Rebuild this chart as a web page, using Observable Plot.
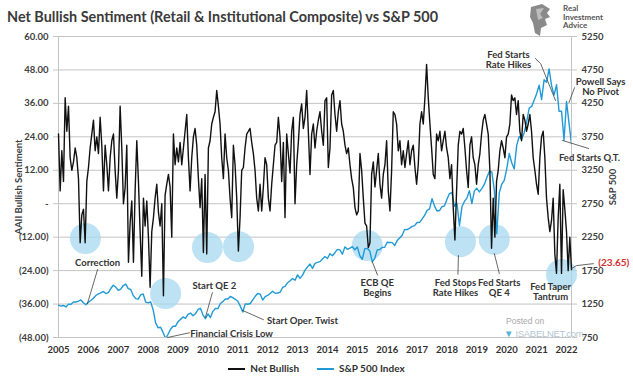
<!DOCTYPE html>
<html><head><meta charset="utf-8">
<script src="https://cdn.jsdelivr.net/npm/d3@7"></script>
<script src="https://cdn.jsdelivr.net/npm/@observablehq/plot@0.6"></script>
<style>
body{margin:0;background:#fff;}
#wrap{position:relative;width:633px;height:387px;overflow:hidden;font-family:Lato,"Open Sans",sans-serif;color:#404040;}
#chart{position:absolute;left:0;top:0;}
.abs{position:absolute;white-space:nowrap;}
.rot{position:absolute;transform:translate(-50%,-50%) rotate(-90deg);font-weight:bold;font-size:9.5px;white-space:nowrap;color:#404040;}
#legend{position:absolute;top:362px;left:0;width:633px;text-align:center;font-size:10px;font-weight:bold;color:#303030;}
#legend span.sw{display:inline-block;width:17px;height:2px;vertical-align:middle;margin:0 5px 0 0;}
#legend span.it{margin:0 9px;}
</style></head><body>
<div id="wrap">
  <svg class="abs" style="left:0;top:0" width="470" height="36"><text x="7" y="22" textLength="431" lengthAdjust="spacingAndGlyphs" font-family="Lato, sans-serif" font-weight="bold" font-size="15.5" fill="#3a3a3a">Net Bullish Sentiment (Retail &amp; Institutional Composite) vs S&amp;P 500</text></svg>
  <svg class="abs" style="left:528px;top:3px" width="24" height="34"><path d="M3 4 L14 1 L22 6 L19 10 L22 14 L17 16 L19 22 L13 25 L12 33 L7 30 L5 20 L2 14 Z" fill="#8a8a8a"/><path d="M8 6 L16 5 L12 11 L15 15 L10 17 Z" fill="#bdbdbd"/></svg>
  <div class="abs" style="left:563px;top:4px;font-size:8px;font-weight:bold;line-height:8.5px;color:#555">Real<br>Investment<br>Advice</div>
  <div id="chart"></div>
  <div class="rot" style="left:18px;top:187px">AAII Bullish Sentiment</div>
  <div class="rot" style="left:612px;top:187px">S&amp;P 500</div>
  <div class="abs" style="left:506px;top:316px;font-size:8.5px;color:#a8a8a8;font-family:Arial,sans-serif">Posted on</div>
  <div class="abs" style="left:504px;top:328px;font-size:9.5px;color:#b4c6d2;font-family:Arial,sans-serif;letter-spacing:-0.3px"><span style="color:#5ab0d8">&#9660;</span> ISABELNET.com</div>
  <div id="legend"><span class="it"><span class="sw" style="background:#111"></span>Net Bullish</span><span class="it"><span class="sw" style="background:#1f9ad6"></span>S&amp;P 500 Index</span></div>
</div>
<script>
// Year labels on the category-style x axis (one label every 12 monthly points)
const yearLabels = [2005,2006,2007,2008,2009,2010,2011,2012,2013,2014,2015,2016,2017,2018,2019,2020,2021,2022];
// Net Bullish readings, evenly spaced (about every 20 days) across the whole axis
const netBullish = [
  25, 4.6, 19, 8, 38, 26, 35, 16.5, 12, 15, 20, 16.5,
  9, -14, -4, -2, -14, 8, 13, 20, 25, 30, 19, 24,
  18, 31, 21, 4.6, 21, 14, 4.6, 16.5, 22.6, 25, 12, 2,
  12, 35, 20, 0, 5.8, 21, -21, -7, 1, -21, 4.6, 22.6,
  8, -10, -26, 2, -8, 1, -12, -30, -10, -5, 2, 7,
  -3, -8, 0, -33, 3, 7, 10.5, 6, -12, 25, 14, 20,
  15, 22, 14, 20, 26, 32, 16.5, 4.6, 16.5, 24, 27, 21,
  9, -1.4, 9, -17.5, 10.5, -18, 20, 22.6, 28.6, 31, 33, 40.6,
  35, 28.6, 16.5, 9, 25, 16.5, 12, 2, -5, 21, 14, 2,
  -17, -5, 12, 13, 20, 25, 26, 27, 22, 18, 12, 2,
  -2.6, 7, -2.6, 6, 16.5, 14, 2, -2.6, 7, 14, 21, 22,
  31, 24, 8, 22, -5, 25, 18, 11, 26, 31, 0, 14,
  22, 32, 35.8, 27, 31, 40.6, 26, 10.5,
  25, 28.6, 20, 26, 30, 33, 26, 21, 37, 38, 13, 20,
  39, 40.6, 32, 26, 33, 37, 28.6, 26, 21, 18, 20, 14,
  9, 5.8, -1.4, -4, -2.6, 18, 12, 2, -7, -8, -15.7, -14,
  10.5, 15, 6, 12, 18, 7, 2, 10.5, 14, 22.6, 4.6, -2.6,
  12, 33, 32, 28.6, 19, 22.6, 14, 19, 13, 18, 22.6, 14,
  19, 21, 13, 7, 14, 28.6, 33, 28.6, 38, 50, 38, 28.6,
  20, 10.5, 9, 25, 22.6, 26, 19, 22.6, 26, 20, 16.5, 9,
  14, -1.4, -13, 4.6, 21, 26, 25, 27, 20, 12, 5.8, 21,
  24, 16.5, 14, 7, 14, 18, 25, 30, 32, 28.6, 25, 12,
  -16, 2, -12, 8, 12, 19, 22.6, 20, 16.5, 24, 25, 28.6,
  39, 37, 38, 32, 37, 26, 22.6, 32, 30, 26, 28.6, 32,
  26, 16.5, 12, 7, 3.4, 16.5, 24, 26, 16.5, 2, -5, -10,
  -6, 2, -18, -25, -5, 7, -25, 5, -2, -10, -24, -12, -23.65
];
// Monthly S&P 500 levels (12 per row, same axis span)
const sp500 = [
  1234, 1220, 1229, 1207, 1249, 1248, 1280, 1281, 1295, 1311, 1270, 1240,
  1277, 1304, 1336, 1378, 1401, 1418, 1438, 1407, 1421, 1482, 1531, 1503,
  1455, 1474, 1527, 1549, 1481, 1468, 1379, 1331, 1323, 1386, 1400, 1280,
  1267, 1283, 1166, 969, 896, 903, 826, 735, 798, 873, 919, 919,
  987, 1021, 1057, 1036, 1096, 1115, 1074, 1104, 1169, 1187, 1089, 1031,
  1102, 1049, 1141, 1183, 1181, 1258, 1286, 1327, 1326, 1364, 1345, 1321,
  1292, 1219, 1131, 1253, 1247, 1258, 1312, 1366, 1408, 1398, 1310, 1362,
  1379, 1407, 1441, 1412, 1416, 1426, 1498, 1515, 1569, 1598, 1631, 1606,
  1686, 1633, 1682, 1757, 1806, 1848, 1783, 1859, 1872, 1884, 1924, 1960,
  1931, 2003, 1972, 2018, 2068, 2059, 1995, 2105, 2068, 2086, 2107, 2063,
  2104, 1972, 1920, 2079, 2080, 2044, 1880, 1932, 2060, 2065, 2097, 2099,
  2174, 2171, 2168, 2126, 2199, 2239, 2279, 2364, 2363, 2384, 2412, 2423,
  2470, 2472, 2519, 2575, 2648, 2674, 2824, 2714, 2641, 2648, 2705, 2718,
  2816, 2902, 2914, 2712, 2760, 2420, 2704, 2784, 2834, 2946, 2752, 2942,
  2980, 2926, 2977, 3038, 3141, 3231, 3226, 2954, 2300, 2912, 3044, 3100,
  3271, 3500, 3363, 3270, 3622, 3756, 3714, 3811, 3973, 4181, 4204, 4298,
  4395, 4523, 4308, 4605, 4567, 4766, 4516, 4374, 4530, 4132, 4132, 3700,
  4280, 3955, 3640
];
const leftTicks = [60, 48, 36, 24, 12, 0, -12, -24, -36, -48];
const rightTicks = [5250, 4750, 4250, 3750, 3250, 2750, 2250, 1750, 1250, 750];
const legendNames = ["Net Bullish", "S&P 500 Index"];

// Annotation circles, notes and leader lines (in data coordinates: month index, left-axis value)
const circles = [
  {i: 10.8, v: -12.5}, {i: 43, v: -32.2}, {i: 59.8, v: -15.7}, {i: 72.3, v: -15.4},
  {i: 124, v: -15}, {i: 161.4, v: -13.6}, {i: 175, v: -12.8}, {i: 202, v: -25.4}
];
const notes = [
  {i: 15.7, v: -21.2, t: "Correction"},
  {i: 62.6, v: -29.3, t: "Start QE 2"},
  {i: 98, v: -42, t: "Start Oper. Twist"},
  {i: 69.5, v: -46.7, t: "Financial Crisis Low"},
  {i: 128, v: -30.2, t: "ECB QE\nBegins"},
  {i: 159.4, v: -30.2, t: "Fed Stops\nRate Hikes"},
  {i: 177, v: -30.2, t: "Fed Starts\nQE 4"},
  {i: 197.6, v: -31.6, t: "Fed Taper\nTantrum"},
  {i: 180.7, v: 51.7, t: "Fed Starts\nRate Hikes"},
  {i: 217.7, v: 42.1, t: "Powell Says\nNo Pivot"},
  {i: 213.2, v: 16.6, t: "Fed Starts Q.T."}
];
const endNote = [{i: 223, v: -21.3, t: "(23.65)"}];
const leaders = [
  {id: 1, i: 15.7, v: -23.6}, {id: 1, i: 11.6, v: -35.9},
  {id: 2, i: 43.8, v: -48}, {id: 2, i: 52.6, v: -46.3},
  {id: 3, i: 61.8, v: -31.9}, {id: 3, i: 59, v: -40.8},
  {id: 4, i: 82.3, v: -41.6}, {id: 4, i: 73.9, v: -38.3},
  {id: 5, i: 128.1, v: -25.6}, {id: 5, i: 126, v: -20.8},
  {id: 6, i: 160.4, v: -25.3}, {id: 6, i: 160.6, v: -18.6},
  {id: 7, i: 177, v: -25}, {id: 7, i: 175, v: -17.9},
  {id: 8, i: 191.5, v: 52.1}, {id: 8, i: 193.6, v: 50.3}, {id: 8, i: 199.6, v: 37},
  {id: 9, i: 207.2, v: 41.6}, {id: 9, i: 205, v: 36.3},
  {id: 10, i: 212.9, v: 19.8}, {id: 10, i: 202.4, v: 22.7},
  {id: 11, i: 206, v: -23.3}, {id: 11, i: 208, v: -22.2}, {id: 11, i: 214.8, v: -21.5}
];

const span = 206; // monthly positions across the axis
const spToLeft = s => -48 + (s - 750) * 108 / 4500;
const leftFmt = d => d === 0 ? "-" : d < 0 ? `(${Math.abs(d).toFixed(2)})` : d.toFixed(2);
const bull = netBullish.map((v, k) => ({i: k * span / (netBullish.length - 1), v}));
const sp = sp500.map((s, i) => ({i, v: spToLeft(s)}));
const yearPos = yearLabels.map((y, k) => k * 12);

const chart = Plot.plot({
  width: 633, height: 360,
  marginTop: 36, marginBottom: 23, marginLeft: 58, marginRight: 62,
  style: {fontFamily: "Lato, sans-serif", fontSize: "9.5px", color: "#404040", background: "transparent", overflow: "visible"},
  x: {domain: [0, span]},
  y: {domain: [-48, 60]},
  marks: [
    Plot.ruleY(leftTicks, {stroke: "#c4c4c4", strokeWidth: 1}),
    Plot.ruleX([0, span], {stroke: "#c4c4c4", strokeWidth: 1}),
    Plot.axisY(leftTicks, {anchor: "left", tickFormat: leftFmt, tickSize: 5, tickPadding: 5, stroke: "#c4c4c4", fill: "#404040", fontWeight: "bold", label: null}),
    Plot.axisY(rightTicks.map(spToLeft), {anchor: "right", tickFormat: (d, k) => String(rightTicks[k]), tickSize: 5, tickPadding: 5, stroke: "#c4c4c4", fill: "#404040", fontWeight: "bold", label: null}),
    Plot.axisX(yearPos, {tickFormat: d => String(yearLabels[d / 12]), tickSize: 0, tickPadding: 9, fill: "#303030", fontWeight: "bold", label: null}),
    Plot.dot(circles, {x: "i", y: "v", r: 15.5, fill: "#a6d8f0", fillOpacity: 0.75, stroke: "none"}),
    Plot.line(sp, {x: "i", y: "v", stroke: "#1f9ad6", strokeWidth: 1.4, clip: true}),
    Plot.line(bull, {x: "i", y: "v", stroke: "#111111", strokeWidth: 1.4}),
    Plot.line(leaders, {x: "i", y: "v", z: "id", stroke: "#404040", strokeWidth: 0.8}),
    Plot.text(notes, {x: "i", y: "v", text: "t", fontWeight: "bold", fontSize: 9.5, fill: "#333333", lineHeight: 1.1}),
    Plot.text(endNote, {x: "i", y: "v", text: "t", fontWeight: "bold", fontSize: 10, fill: "#d03030"})
  ]
});
document.getElementById("chart").appendChild(chart);
</script>
</body></html>
